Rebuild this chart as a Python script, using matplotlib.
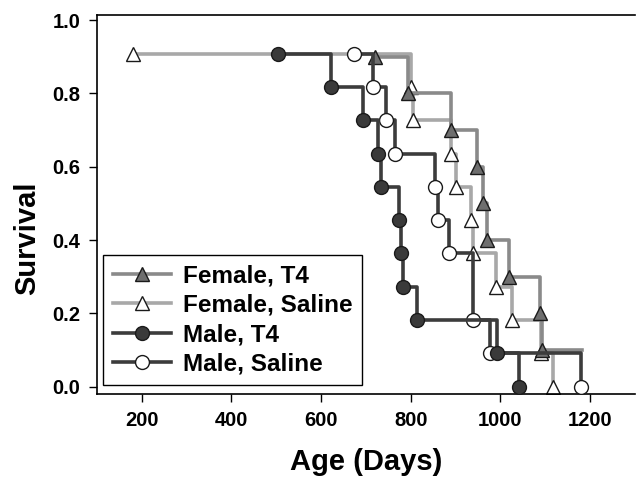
"""Kaplan-Meier survival curves by sex and treatment, saved to out.png."""

import matplotlib.pyplot as plt
from matplotlib.lines import Line2D

plt.rcParams["font.family"] = ["Liberation Sans", "DejaVu Sans"]
plt.rcParams["font.weight"] = "bold"

# death ages (days) and survival after each event
female_t4_age = [720, 794, 890, 949, 962, 971, 1019, 1089, 1094, 1182]
female_t4_surv = [0.9, 0.8, 0.7, 0.6, 0.5, 0.4, 0.3, 0.2, 0.1, 0.1]

female_saline_age = [180, 801, 806, 890, 902, 934, 939, 991, 1027, 1091, 1117]
female_saline_surv = [0.909, 0.818, 0.727, 0.636, 0.545, 0.455, 0.364, 0.273, 0.182, 0.091, 0.0]

male_t4_age = [503, 623, 693, 727, 733, 774, 778, 783, 815, 993, 1041]
male_t4_surv = [0.909, 0.818, 0.727, 0.636, 0.545, 0.455, 0.364, 0.273, 0.182, 0.091, 0.0]

male_saline_age = [674, 716, 744, 764, 854, 862, 885, 938, 976, 1179]
male_saline_surv = [0.909, 0.818, 0.727, 0.636, 0.545, 0.455, 0.364, 0.182, 0.091, 0.0]

series = [
    # label, ages, surv, line colour, marker, face, markevery, zorder
    ("Female, T4", female_t4_age, female_t4_surv, "#8a8a8a", "^", "#6e6e6e", list(range(9)), 3),
    ("Female, Saline", female_saline_age, female_saline_surv, "#a8a8a8", "^", "white", None, 2),
    ("Male, T4", male_t4_age, male_t4_surv, "#3c3c3c", "o", "#3a3a3a", None, 5),
    ("Male, Saline", male_saline_age, male_saline_surv, "#3c3c3c", "o", "white", None, 4),
]

fig = plt.figure(figsize=(6.36, 4.79), dpi=100)
ax = fig.add_axes([0.1525, 0.1775, 0.8455, 0.7918])

handles = []
for label, age, surv, color, mk, face, every, z in series:
    ax.plot(age, surv, drawstyle="steps-post", color=color, lw=2.6,
            marker=mk, markersize=10, markerfacecolor=face,
            markeredgecolor="#1a1a1a", markeredgewidth=1.0,
            markevery=every, zorder=z)
    handles.append(Line2D([0], [0], color=color, lw=2.6, marker=mk, markersize=10,
                          markerfacecolor=face, markeredgecolor="#1a1a1a",
                          markeredgewidth=1.0))

ax.set_xlim(100, 1300)
ax.set_ylim(-0.02, 1.015)
ax.set_xticks([200, 400, 600, 800, 1000, 1200])
ax.set_yticks([0.0, 0.2, 0.4, 0.6, 0.8, 1.0])
ax.set_yticklabels(["0.0", "0.2", "0.4", "0.6", "0.8", "1.0"])
ax.tick_params(direction="out", length=6, width=1, labelsize=14.5, pad=6)
for s in ax.spines.values():
    s.set_linewidth(1.2)
ax.spines["right"].set_visible(False)

ax.set_xlabel("Age (Days)", fontsize=21, fontweight="bold", labelpad=13)
ax.set_ylabel("Survival", fontsize=21, fontweight="bold")
ax.yaxis.set_label_coords(-0.104, 0.41)

leg = ax.legend(handles, [s[0] for s in series], loc="lower left",
                bbox_to_anchor=(0.011, 0.024), borderaxespad=0,
                fontsize=17.5, handlelength=2.4, handletextpad=0.5,
                labelspacing=0.25, borderpad=0.4, fancybox=False,
                edgecolor="black", framealpha=1)
leg.get_frame().set_linewidth(1.0)

fig.savefig("out.png", dpi=100)
